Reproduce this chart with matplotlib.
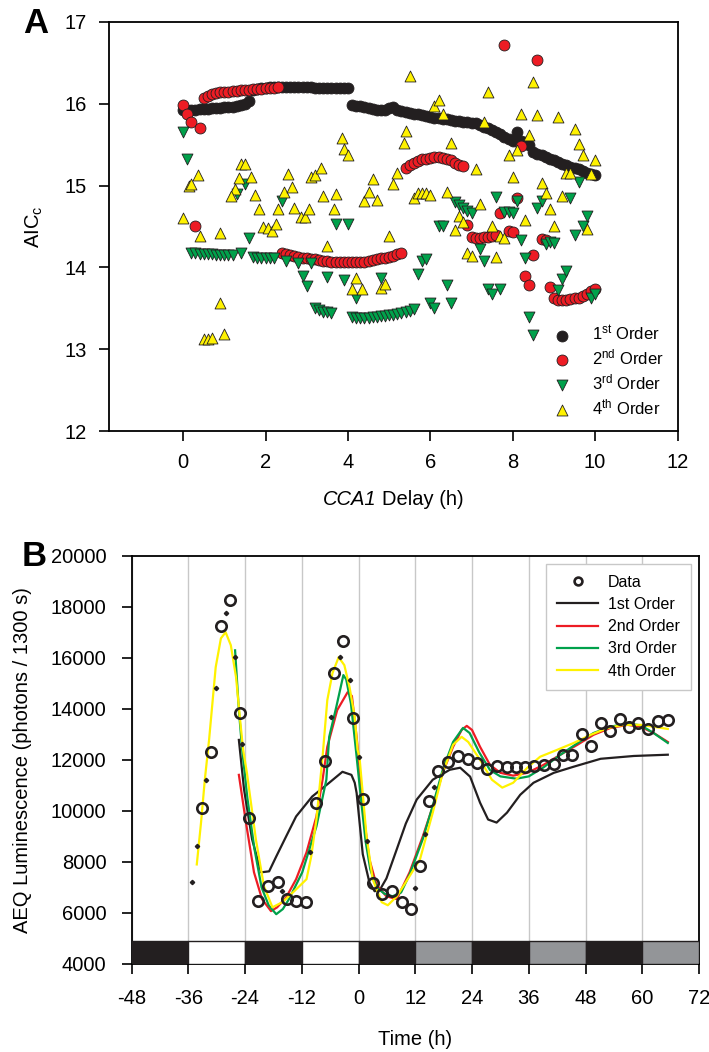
import matplotlib.pyplot as plt
import numpy as np
from matplotlib.offsetbox import TextArea, HPacker, AnchoredOffsetbox

plt.rcParams['font.family'] = ['Liberation Sans', 'DejaVu Sans']
plt.rcParams['mathtext.fontset'] = 'custom'
plt.rcParams['mathtext.rm'] = 'Liberation Sans'
plt.rcParams['mathtext.it'] = 'Liberation Sans:italic'
plt.rcParams['axes.unicode_minus'] = False

# ---------------- PANEL A : AICc vs CCA1 delay ----------------
delay = np.round(np.arange(0, 10.05, 0.1), 1)   # 0.0 ... 10.0 h

aic_1st = [15.92, 15.92, 15.93, 15.93, 15.94, 15.94, 15.94, 15.95, 15.95, 15.95,
           15.96, 15.96, 15.96, 15.97, 15.98, 16.00, 16.03,
           16.17, 16.18, 16.19, 16.19, 16.20, 16.20, 16.20, 16.20, 16.20, 16.20,
           16.20, 16.20, 16.20, 16.20, 16.20, 16.19, 16.19, 16.19, 16.19, 16.19,
           16.19, 16.19, 16.19, 16.19,
           15.98, 15.97, 15.97, 15.96, 15.95, 15.94, 15.93, 15.92, 15.93, 15.95,
           15.96, 15.93, 15.91, 15.90, 15.89, 15.88, 15.87, 15.86, 15.85, 15.84,
           15.83, 15.83, 15.82, 15.81, 15.80, 15.79, 15.79, 15.78, 15.78, 15.77,
           15.77, 15.74, 15.72, 15.70, 15.68, 15.66, 15.63, 15.60, 15.57, 15.55,
           15.66, 15.55, 15.53, 15.50, 15.41, 15.39, 15.37, 15.35, 15.33, 15.31,
           15.29, 15.27, 15.25, 15.23, 15.21, 15.20, 15.18, 15.16, 15.14, 15.13]

aic_2nd = [15.98, 15.88, 15.78, 14.50, 15.70,
           16.07, 16.10, 16.12, 16.13, 16.14, 16.15, 16.15, 16.16, 16.16, 16.17,
           16.17, 16.17, 16.18, 16.18, 16.18, 16.19, 16.19, 16.19, 16.20,
           14.17, 14.16, 14.15, 14.14, 14.13, 14.12, 14.11, 14.10, 14.10, 14.09,
           14.08, 14.08, 14.07, 14.07, 14.06, 14.06, 14.06, 14.06, 14.06, 14.07,
           14.07, 14.08, 14.09, 14.10, 14.11, 14.12, 14.13, 14.14, 14.16, 14.17,
           15.22, 15.25, 15.28, 15.30, 15.32, 15.33, 15.34, 15.35, 15.35, 15.34,
           15.33, 15.31, 15.28, 15.25, 15.24,
           14.52, 14.37, 14.36, 14.36, 14.37, 14.37, 14.38, 14.40, 14.66, 16.72,
           14.45, 14.43, 14.85, 15.49, 13.89, 13.78, 14.15, 16.54, 14.35, 14.33,
           13.76,
           13.62, 13.60, 13.60, 13.60, 13.61, 13.62, 13.63, 13.65, 13.68, 13.71, 13.74]

delay_3rd = [0.0, 0.1, 0.2, 0.3, 0.4, 0.5, 0.6, 0.7, 0.8, 0.9, 1.0, 1.1, 1.2,
             1.4, 1.6, 1.7, 1.8, 1.9, 2.0, 2.1, 2.2, 1.3, 1.5, 2.4,
             2.5, 2.8, 3.1, 2.9, 3.0, 3.5, 3.9, 4.2, 4.8,
             3.2, 3.3, 3.4, 3.5, 3.6,
             4.1, 4.2, 4.3, 4.4, 4.5, 4.6, 4.7, 4.8, 4.9, 5.0, 5.1, 5.2, 5.3, 5.4, 5.5, 5.6,
             3.7, 4.0, 5.7, 5.8, 5.9, 6.0, 6.1, 6.2, 6.3, 6.4, 6.5,
             6.6, 6.7, 6.8, 6.9, 7.0, 7.2, 7.3, 7.4, 7.5, 7.7, 7.6,
             7.8, 7.9, 8.0, 8.1, 8.2, 8.3, 8.4, 8.5, 8.6, 8.7, 8.8, 8.9, 9.0,
             9.1, 9.2, 9.3, 9.4, 9.5, 9.6, 9.7, 9.8, 9.9, 10.0]
aic_3rd = [15.65, 15.33, 14.17, 14.17, 14.16, 14.16, 14.16, 14.16, 14.15, 14.15, 14.15, 14.15, 14.15,
           14.18, 14.36, 14.13, 14.12, 14.12, 14.12, 14.11, 14.11, 14.90, 15.02, 14.81,
           14.08, 14.05, 14.05, 13.90, 13.77, 13.88, 13.85, 13.63, 13.87,
           13.50, 13.48, 13.46, 13.45, 13.44,
           13.39, 13.38, 13.38, 13.38, 13.38, 13.39, 13.39, 13.40, 13.41, 13.42, 13.42, 13.43,
           13.44, 13.45, 13.47, 13.49,
           14.53, 14.53, 13.92, 14.08, 14.10, 13.57, 13.50, 14.51, 14.51, 13.78, 13.56,
           14.80, 14.76, 14.72, 14.69, 14.66, 14.23, 14.08, 13.74, 13.68, 13.74, 14.86,
           14.68, 14.68, 14.67, 14.81, 14.34, 14.11, 13.39, 13.17, 14.72, 14.81, 14.28, 14.31, 14.30,
           13.72, 13.86, 13.96, 14.85, 14.40, 15.05, 14.50, 14.63, 13.62, 13.67]

delay_4th = [0.0, 0.4, 0.9, 0.9, 0.5, 0.6, 0.7, 1.0, 0.35, 0.15, 0.2,
             1.4, 1.5, 1.35, 1.65, 1.25, 1.15, 1.75, 1.85,
             1.95, 2.05, 2.15, 2.25, 2.3, 2.45, 2.55, 2.65, 2.7, 2.85, 2.95, 3.05,
             3.1, 3.2, 3.35, 3.4, 3.7, 3.65, 3.5, 3.85, 3.9, 4.0,
             4.2, 4.1, 4.35, 4.4, 4.5, 4.6, 4.7, 4.8, 4.9, 5.0, 5.1, 5.2,
             5.35, 5.4, 5.5, 5.6, 5.7, 5.8, 5.9, 6.0, 6.1, 6.2, 6.3, 6.4, 6.5,
             6.6, 6.7, 6.8, 6.9, 7.0, 7.1, 7.2, 7.3, 7.4, 7.5, 7.6, 7.7, 7.8,
             7.9, 8.0, 8.1, 8.2, 8.3, 8.4, 8.5, 8.6, 8.7, 8.8, 8.9, 9.0,
             9.1, 9.2, 9.3, 9.4, 9.5, 9.6, 9.7, 9.8, 9.9, 10.0]
aic_4th = [14.60, 14.38, 14.42, 13.57, 13.13, 13.13, 13.14, 13.18, 15.13, 14.99, 15.02,
           15.26, 15.27, 15.09, 15.10, 14.96, 14.87, 14.88, 14.71,
           14.49, 14.48, 14.45, 14.53, 14.71, 14.92, 15.14, 14.98, 14.72, 14.62, 14.62, 14.71,
           15.11, 15.13, 15.21, 14.87, 14.90, 14.71, 14.26, 15.58, 15.45, 15.37,
           13.87, 13.73, 13.73, 14.81, 14.92, 15.08, 14.83, 13.75, 13.80, 14.38, 15.02, 15.15,
           15.52, 15.67, 16.34, 14.85, 14.91, 14.91, 14.91, 14.88, 15.97, 16.05, 15.87, 14.92, 15.52,
           14.46, 14.63, 14.55, 14.18, 14.14, 15.20, 14.77, 15.78, 16.14, 14.50, 14.13, 14.38, 14.36,
           15.38, 15.10, 15.44, 15.88, 14.58, 15.62, 16.27, 15.86, 15.03, 14.91, 14.71, 14.50,
           15.84, 14.87, 15.16, 15.16, 15.69, 15.51, 15.38, 14.47, 15.14, 15.31]

order_labels_a = ['1$^{\\rm st}$ Order', '2$^{\\rm nd}$ Order',
                  '3$^{\\rm rd}$ Order', '4$^{\\rm th}$ Order']

# ---------------- PANEL B : luminescence time course ----------------
data_t = [-33.1, -31.2, -29.1, -27.2, -25.1, -23.2, -21.2, -19.1, -17.0, -15.1,
          -13.2, -11.0, -8.9, -7.0, -5.1, -3.2, -1.1, 0.9, 3.0, 5.0, 7.0, 9.1,
          11.0, 13.0, 14.9, 16.9, 19.0, 21.1, 23.2, 25.1, 27.1, 29.2, 31.3, 33.2,
          35.1, 37.2, 39.3, 41.3, 43.2, 45.2, 47.3, 49.2, 51.2, 53.1, 55.2, 57.2,
          59.2, 61.2, 63.3, 65.4]
data_v = [10130, 12310, 17230, 18280, 13830, 9700, 6460, 7050, 7200, 6540,
          6460, 6420, 10320, 11960, 15400, 16640, 13640, 10480, 7160, 6750, 6850, 6420,
          6150, 7820, 10400, 11570, 11920, 12150, 12040, 11880, 11650, 11770, 11730, 11700,
          11730, 11760, 11800, 11840, 12200, 12200, 13010, 12540, 13440, 13130, 13600, 13290,
          13440, 13200, 13520, 13560]

dot_t = [-35.3, -34.2, -32.3, -30.1, -28.1, -26.1, -24.6, -16.2, -10.2, -5.9,
         -4.0, -1.9, 0.0, 1.7, 11.9, 14.0, 15.9]
dot_v = [7200, 8640, 11220, 14810, 17740, 16020, 12600, 6850, 8370, 13680,
         16020, 15120, 12100, 8800, 6960, 9110, 10940]

fit1_t = [-25.3, -24.2, -22.5, -20.6, -18.9, -17.4, -15.3, -13.2, -9.8, -6.2,
          -3.4, -1.5, -0.8, -0.4, 0.9, 2.3, 3.4, 4.5, 5.9, 8.1, 10.0, 12.3,
          15.7, 19.3, 21.5, 23.6, 25.7, 27.4, 29.2, 31.4, 34.2, 37.0, 41.3,
          45.5, 51.2, 58.2, 65.4]
fit1_v = [12780, 10830, 8880, 7590, 7630, 8210, 9000, 9780, 10560, 11100,
          11530, 11410, 11100, 10700, 8300, 7200, 6850, 6900, 7350, 8500, 9500, 10440,
          11220, 11610, 11690, 11340, 10320, 9660, 9540, 9930, 10630, 11100, 11490,
          11730, 12040, 12150, 12200]

fit2_t = [-25.3, -23.8, -22.1, -20.4, -18.5, -17.2, -15.3, -13.2, -11.0, -8.9,
          -7.6, -6.6, -4.5, -2.3, -1.4, -0.4, 1.3, 2.3, 3.8, 5.9, 8.1, 10.8,
          13.6, 15.7, 17.8, 20.0, 21.8, 22.9, 24.0, 25.7, 27.8, 30.0, 32.7,
          35.7, 39.1, 42.7, 46.3, 49.7, 53.3, 56.9, 59.7, 62.4, 65.4]
fit2_v = [11410, 9540, 7590, 6540, 6070, 6220, 6610, 7320, 8370, 9780,
          11220, 12510, 13950, 14650, 14500, 12900, 9540, 8100, 7100, 6650, 6540, 7590,
          9000, 10170, 11490, 12510, 13170, 13330, 13170, 12510, 11800, 11490, 11380,
          11490, 11800, 12200, 12590, 12980, 13250, 13370, 13290, 13050, 12700]

fit3_t = [-26.1, -25.3, -24.6, -23.5, -22.0, -20.5, -19.0, -17.4, -16.0, -14.7,
          -11.9, -8.9, -6.8, -6.2, -4.7, -3.2, -2.6, -1.6, -0.5, 0.5, 1.5, 2.5,
          3.8, 5.5, 7.2, 9.0, 10.8, 13.6, 15.7, 17.8, 20.0, 22.1, 23.5, 25.5,
          27.8, 30.0, 33.4, 36.0, 39.1, 42.7, 46.3, 49.7, 53.3, 56.9, 59.7,
          62.4, 65.4]
fit3_v = [16290, 13950, 12390, 10500, 8500, 7000, 6300, 5950, 6150, 6540,
          7590, 9390, 11220, 12900, 14070, 15320, 15150, 14200, 12300, 10500, 8800, 7700,
          7000, 6750, 6650, 6800, 7500, 8900, 10200, 11600, 12700, 13250, 13050, 12300,
          11600, 11350, 11260, 11350, 11700, 12200, 12650, 13050, 13300, 13420, 13350,
          13050, 12660]

fit4_t = [-34.2, -33.3, -32.5, -31.6, -30.2, -29.1, -28.1, -27.0, -25.9, -25.1,
          -24.4, -23.6, -21.7, -20.0, -18.2, -16.1, -13.6, -11.0, -10.0, -8.9,
          -7.6, -6.6, -5.5, -4.2, -3.0, -1.9, -0.8, -0.2, 0.2, 1.7, 3.0, 4.9,
          6.2, 8.1, 10.4, 13.0, 15.7, 17.8, 20.0, 21.8, 23.2, 25.7, 28.2, 30.4,
          32.7, 35.7, 38.4, 42.0, 45.5, 49.1, 52.7, 56.1, 59.7, 65.4]
fit4_v = [7900, 9540, 11220, 12780, 15630, 16760, 17000, 16490, 15240, 13680,
          12390, 11490, 8880, 7050, 6220, 6420, 6850, 7320, 8210, 9660,
          12120, 14340, 15400, 16020, 15710, 14850, 13680, 12390, 12120, 9000, 7320, 6420,
          6300, 6650, 7320, 8100, 9930, 11490, 12590, 12900, 12700, 12000, 11220, 10910,
          11100, 11690, 12120, 12390, 12660, 12980, 13250, 13370, 13370, 13210]

# light / dark bar under panel B
bar_start = [-48, -36, -24, -12, 0, 12, 24, 36, 48, 60]
bar_color = ['#231f20', 'white', '#231f20', 'white', '#231f20',
             '#939598', '#231f20', '#939598', '#231f20', '#939598']

black = '#231f20'
red = '#ed1c24'
green = '#00a14b'
yellow = '#fff200'

fig = plt.figure(figsize=(7.09, 10.52), dpi=100)

# ---------------- draw panel A ----------------
axA = fig.add_axes([0.1537, 0.5903, 0.8019, 0.3888])
ms = 62
axA.scatter(delay, aic_1st, s=ms, c=black, edgecolors=black, linewidths=0.6, label=order_labels_a[0], zorder=3)
axA.scatter(delay, aic_2nd, s=ms, c=red, edgecolors=black, linewidths=0.6, label=order_labels_a[1], zorder=3)
axA.scatter(delay_3rd, aic_3rd, s=ms, marker='v', c=green, edgecolors=black, linewidths=0.6, label=order_labels_a[2], zorder=3)
axA.scatter(delay_4th, aic_4th, s=ms, marker='^', c=yellow, edgecolors=black, linewidths=0.6, label=order_labels_a[3], zorder=3)

axA.set_xlim(-1.8, 12)
axA.set_ylim(12, 17)
axA.set_xticks(range(0, 13, 2))
axA.set_yticks(range(12, 18))
axA.tick_params(direction='out', length=7, width=1.2, labelsize=14.5, pad=9)
for sp in axA.spines.values():
    sp.set_linewidth(1.3)
axA.set_ylabel('AIC$_{\\rm c}$', fontsize=14.5)
axA.yaxis.set_label_coords(-0.112, 0.5)

# x label: italic gene name followed by upright text
xl_gene = TextArea('CCA1', textprops=dict(fontsize=14.5, fontstyle='italic'))
xl_rest = TextArea('Delay (h)', textprops=dict(fontsize=14.5))
xl_box = HPacker(children=[xl_gene, xl_rest], align='baseline', pad=0, sep=4)
axA.add_artist(AnchoredOffsetbox(loc='center', child=xl_box, frameon=False,
                                 bbox_to_anchor=(0.5, -0.168), bbox_transform=axA.transAxes,
                                 borderpad=0, pad=0))

axA.legend(loc='lower right', frameon=False, fontsize=12, handletextpad=0.8,
           labelspacing=0.3, borderaxespad=0.2, borderpad=0.6, scatterpoints=1)
fig.text(0.033, 0.993, 'A', fontsize=25, fontweight='bold', va='top')

# ---------------- draw panel B ----------------
axB = fig.add_axes([0.1855, 0.0837, 0.8004, 0.3881])
axB.xaxis.grid(True, color='#c8c8c8', linewidth=1.0, zorder=0)
axB.set_axisbelow(True)
axB.bar(bar_start, 900, width=12, bottom=4000, align='edge', color=bar_color,
        edgecolor=black, linewidth=1.0, zorder=4)
axB.plot(fit1_t, fit1_v, color=black, lw=1.6, label='1st Order', zorder=2)
axB.plot(fit2_t, fit2_v, color=red, lw=1.6, label='2nd Order', zorder=2)
axB.plot(fit3_t, fit3_v, color=green, lw=1.6, label='3rd Order', zorder=2)
axB.plot(fit4_t, fit4_v, color=yellow, lw=1.6, label='4th Order', zorder=2)
axB.plot(data_t, data_v, 'o', ms=7.5, mfc='none', mec=black, mew=1.9, label='Data', zorder=3)
axB.plot(dot_t, dot_v, 'D', ms=2.2, color=black, zorder=3)

axB.set_xlim(-48, 72)
axB.set_ylim(4000, 20000)
axB.set_xticks(range(-48, 73, 12))
axB.set_yticks(range(4000, 20001, 2000))
axB.tick_params(axis='both', direction='out', length=7, width=1.2, labelsize=14.5)
axB.tick_params(axis='x', pad=11)
axB.tick_params(axis='y', pad=11)
for sp in axB.spines.values():
    sp.set_linewidth(1.3)
axB.set_xlabel('Time (h)', fontsize=14.5)
axB.xaxis.set_label_coords(0.5, -0.162)
axB.set_ylabel('AEQ Luminescence (photons / 1300 s)', fontsize=14.5)
axB.yaxis.set_label_coords(-0.175, 0.5)

h, l = axB.get_legend_handles_labels()
order = [4, 0, 1, 2, 3]
legB = axB.legend([h[i] for i in order], [l[i] for i in order], loc='upper right',
                  fontsize=11.5, fancybox=False, edgecolor='#c8c8c8', framealpha=1,
                  handlelength=2.6, handletextpad=0.6, labelspacing=0.45, borderpad=0.7,
                  borderaxespad=0.5, markerscale=0.75)
legB.get_frame().set_linewidth(1.0)
fig.text(0.03, 0.487, 'B', fontsize=25, fontweight='bold', va='top')

fig.savefig('out.png', dpi=100)
